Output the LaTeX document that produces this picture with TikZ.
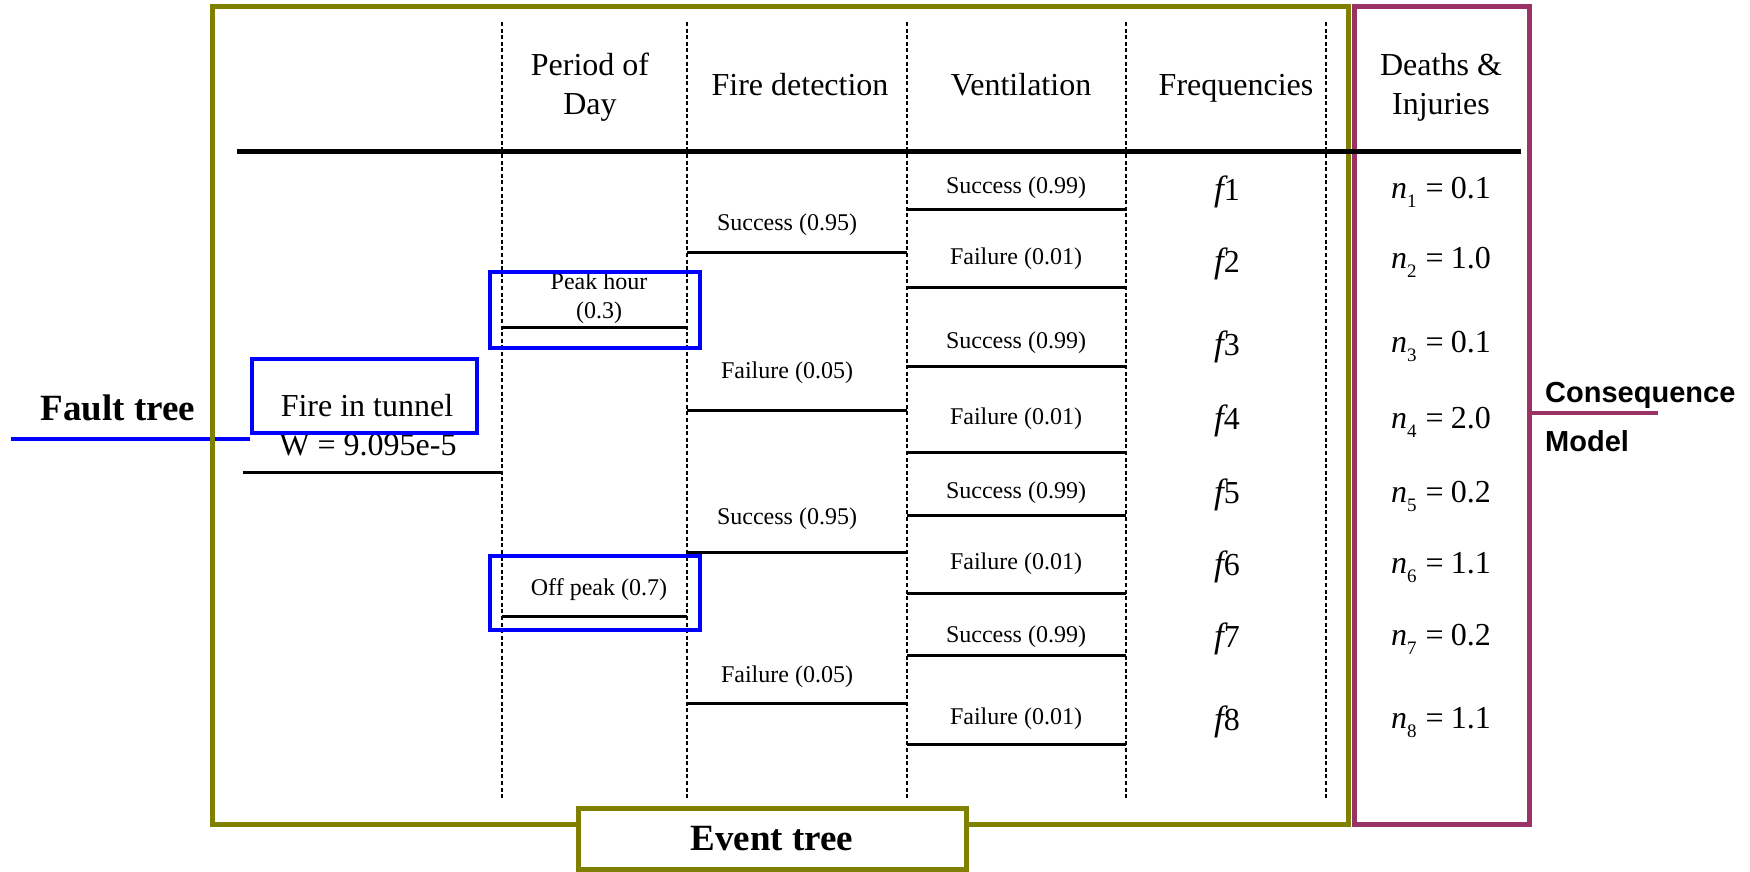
\documentclass[tikz,border=0pt]{standalone}
\usepackage{fontspec}
\setmainfont{Liberation Serif}
\newfontfamily\sansfam{Liberation Sans}
\definecolor{olivebox}{RGB}{128,128,0}
\definecolor{magbox}{RGB}{153,51,102}
\newcommand{\nval}[2]{{\itshape n}\raisebox{-0.3em}{\fontsize{19}{19}\selectfont #1}\hspace{0.28em}=\hspace{0.22em}#2}
\newcommand{\fval}[1]{{\fontsize{35}{39}\selectfont\itshape f}#1}
\begin{document}
\begin{tikzpicture}[x=1pt,y=-1pt,
  branch/.style={line width=3pt},
  colline/.style={line width=2.6pt, dash pattern=on 4pt off 2.6pt},
  big/.style={font=\fontsize{32}{39}\selectfont, inner sep=0pt},
  small/.style={font=\fontsize{24}{30}\selectfont, inner sep=0pt},
  title/.style={font=\fontsize{37}{44}\selectfont\bfseries, inner sep=0pt},
  sanstitle/.style={font=\fontsize{29}{35}\selectfont\sansfam\bfseries, inner sep=0pt, anchor=base west},
  bluebox/.style={draw=blue, line width=4pt},
]
\useasboundingbox (0,0) rectangle (1750,872);

% fault tree connector (under the frame)
\coordinate (ftL) at (11,439);
\coordinate (ftR) at (250,439);
\draw[blue, line width=4pt] (ftL) -- (ftR);
\node[title, anchor=base] (faulttree) at (118,420) {Fault tree};

% frames
\draw[olivebox, line width=5pt] (212,7) rectangle (1348,824);
\draw[magbox, line width=5pt] (1354,7) rectangle (1529,824);
\coordinate (cmA) at (1529,413);
\coordinate (cmB) at (1658,413);
\draw[magbox, line width=4pt] (cmA) -- (cmB);
\node[sanstitle] (conseq) at (1545,402) {Consequence};
\node[sanstitle] (model) at (1545,451) {Model};

% column separators
\foreach \x/\n in {502/a,687/b,907/c,1126/d,1326/e}{
  \coordinate (top\n) at (\x,22);
  \coordinate (bot\n) at (\x,798);
  \draw[colline] (top\n) -- (bot\n);
}

% header
\coordinate (hL) at (237,151);
\coordinate (hR) at (1521,151);
\draw[line width=5pt] (hL) -- (hR);
\node[big, anchor=base] (h1a) at (590,76) {Period of};
\node[big, anchor=base] (h1b) at (590,114) {Day};
\node[big, anchor=base] (h2) at (800,96) {Fire detection};
\node[big, anchor=base] (h3) at (1021,96) {Ventilation};
\node[big, anchor=base] (h4) at (1236,96) {Frequencies};
\node[big, anchor=base] (h5a) at (1441,76) {Deaths \&};
\node[big, anchor=base] (h5b) at (1441,114) {Injuries};

% initiating event
\coordinate (ie1) at (243,472);
\coordinate (ie2) at (502,472);
\draw[branch] (ie1) -- (ie2);
\node[big, anchor=base] (fire) at (367,416) {Fire in tunnel};
\node[big, anchor=base] (wval) at (368,455) {W = 9.095e-5};
\draw[bluebox] (252,359) rectangle (477,433);

% period of day
\coordinate (pk1) at (502,327);
\coordinate (pk2) at (687,327);
\draw[branch] (pk1) -- (pk2);
\node[small, anchor=base] (pka) at (599,289) {Peak hour};
\node[small, anchor=base] (pkb) at (599,318) {(0.3)};
\draw[bluebox] (490,272) rectangle (700,348);

\coordinate (op1) at (502,616);
\coordinate (op2) at (687,616);
\draw[branch] (op1) -- (op2);
\node[small] (opk) at (599,590) {Off peak (0.7)};
\draw[bluebox] (490,556) rectangle (700,630);

% fire detection
\foreach \y/\ly/\t/\n in {252/225/Success (0.95)/1, 410/373/Failure (0.05)/2, 552/519/Success (0.95)/3, 703/677/Failure (0.05)/4}{
  \coordinate (fdL\n) at (687,\y);
  \coordinate (fdR\n) at (907,\y);
  \draw[branch] (fdL\n) -- (fdR\n);
  \node[small] (fdt\n) at (787,\ly) {\t};
}

% ventilation
\foreach \y/\ly/\t/\n in {209/188/Success (0.99)/1, 287/259/Failure (0.01)/2, 366/343/Success (0.99)/3, 452/419/Failure (0.01)/4, 515/493/Success (0.99)/5, 593/564/Failure (0.01)/6, 655/637/Success (0.99)/7, 744/719/Failure (0.01)/8}{
  \coordinate (vL\n) at (907,\y);
  \coordinate (vR\n) at (1126,\y);
  \draw[branch] (vL\n) -- (vR\n);
  \node[small] (vt\n) at (1016,\ly) {\t};
}

% frequencies
\foreach \y/\n in {200/1,272/2,355/3,429/4,503/5,575/6,647/7,730/8}{
  \node[big, anchor=base] (f\n) at (1227,\y) {\fval{\n}};
}

% consequences
\foreach \y/\n/\v in {198/1/0.1,268/2/1.0,352/3/0.1,428/4/2.0,502/5/0.2,573/6/1.1,645/7/0.2,728/8/1.1}{
  \node[big, anchor=base] (n\n) at (1441,\y) {\nval{\n}{\v}};
}

% event tree label box
\node[draw=olivebox, line width=5pt, fill=white, minimum width=388pt, minimum height=61pt, inner sep=0pt, font=\fontsize{37}{44}\selectfont\bfseries] (eventtree) at (772,838.5) {Event tree};
\end{tikzpicture}
\end{document}
